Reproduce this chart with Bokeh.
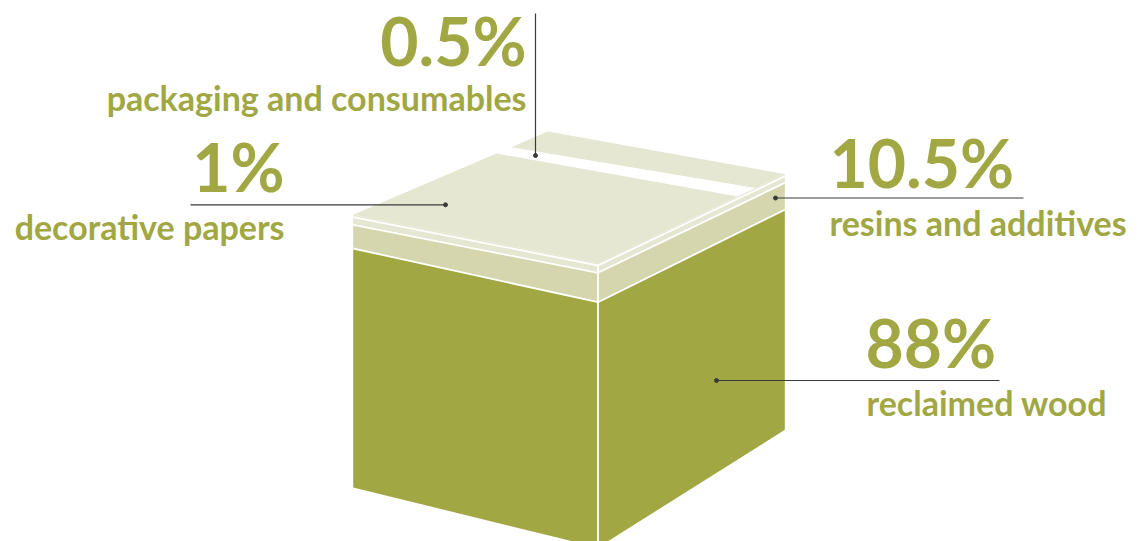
from bokeh.plotting import figure
from bokeh.models import Range1d
from bokeh.embed import file_html
from bokeh.resources import INLINE
from bokeh.core.properties import value

# ---------------- data ----------------
categories = ["reclaimed wood", "resins and additives", "decorative papers", "packaging and consumables"]
shares = [88, 10.5, 1, 0.5]
share_labels = [f"{v:g}%" for v in shares]

# ---------------- style ----------------
GREEN = "#A0A743"
RESIN = "#D5D6AD"
LIGHT = "#E5E7D2"
LEADER = "#3a3a3a"
FONT = "Lato"
NUM_PX = 66
LBL_PX = 34
BASE_SHIFT = 0.387   # text is centred on its anchor: baseline sits this many em below

W, H = 1140, 541
p = figure(width=W, height=H, x_range=Range1d(0, W), y_range=Range1d(H, 0),
           output_backend="svg", toolbar_location=None, min_border=0,
           x_axis_location=None, y_axis_location=None)
p.grid.visible = False
p.outline_line_color = None
p.background_fill_color = "white"
p.border_fill_color = "white"

# ---------------- box layout (screen geometry) ----------------
XL, XF, XR = 352.7, 597.5, 784.3
TOP = (214.3, 262.7, 173.5)
SEAM = (216.6, 265.0, 175.8)
PAPER_BOTTOM = (224.3, 272.3, 182.4)
RESIN_BOTTOM = (248.0, 301.7, 209.3)
BOTTOM = (487.0, 547.0, 429.3)
BACK = (547.3, 131.0)
GAP_LB = (0.736, 0.812)   # fractions along left->back edge
GAP_FR = (0.747, 0.843)   # fractions along front->right edge

bands = [
    (RESIN_BOTTOM, BOTTOM, GREEN),       # reclaimed wood
    (PAPER_BOTTOM, RESIN_BOTTOM, RESIN), # resins and additives
    (TOP, PAPER_BOTTOM, LIGHT),          # decorative papers edge
]
xs, ys, cs = [], [], []
for top, bot, col in bands:
    xs.append([XL, XF, XF, XL]); ys.append([top[0], top[1], bot[1], bot[0]]); cs.append(col)
    xs.append([XF, XR, XR, XF]); ys.append([top[1], top[2], bot[2], bot[1]]); cs.append(col)
p.patches(xs, ys, fill_color=cs, line_color=None)

L = (XL, TOP[0]); F = (XF, TOP[1]); R = (XR, TOP[2]); B = BACK
def lerp(a, b, t):
    return (a[0] + (b[0] - a[0]) * t, a[1] + (b[1] - a[1]) * t)
P1 = lerp(L, B, GAP_LB[0]); Q1 = lerp(L, B, GAP_LB[1])
P2 = lerp(F, R, GAP_FR[0]); Q2 = lerp(F, R, GAP_FR[1])
front_part = [L, P1, P2, F]
back_strip = [Q1, B, R, Q2]
p.patches([[q[0] for q in front_part], [q[0] for q in back_strip]],
          [[q[1] for q in front_part], [q[1] for q in back_strip]],
          fill_color=LIGHT, line_color=None)

# white seams
seams = [SEAM, PAPER_BOTTOM, RESIN_BOTTOM]
p.multi_line([[XL, XF, XR] for _ in seams] + [[XF, XF]],
             [list(s) for s in seams] + [[SEAM[1], BOTTOM[1]]],
             line_color="white", line_width=1.8)

# ---------------- leaders ----------------
leaders = {
    "reclaimed wood": ((716, 380), (999, 380)),
    "resins and additives": ((775, 197.5), (1023, 197.5)),
    "decorative papers": ((445, 204.3), (190, 204.3)),
    "packaging and consumables": ((535, 155), (535, 13)),
}
lx, ly, dx, dy = [], [], [], []
for c in categories:
    a, b = leaders[c]
    lx.append([a[0], b[0]]); ly.append([a[1], b[1]])
    dx.append(a[0]); dy.append(a[1])
p.multi_line(lx, ly, line_color=LEADER, line_width=1.2)
p.scatter(dx, dy, size=4, color=LEADER)

# ---------------- labels ----------------
# (number x, number baseline, label x, label baseline, alignment)
label_pos = {
    "reclaimed wood": (865, 368, 866, 415, "left"),
    "resins and additives": (829, 188, 829, 235, "left"),
    "decorative papers": (284, 192, 284, 239, "right"),
    "packaging and consumables": (526, 66, 526, 110, "right"),
}
for c, lab in zip(categories, share_labels):
    nx, ny, tx, ty, al = label_pos[c]
    p.text(x=[nx], y=[ny - BASE_SHIFT * NUM_PX], text=[lab], text_font=value(FONT),
           text_font_style="bold", text_font_size=f"{NUM_PX}px", text_color=GREEN,
           text_align=al, text_baseline="alphabetic")
    p.text(x=[tx], y=[ty - BASE_SHIFT * LBL_PX], text=[c], text_font=value(FONT),
           text_font_style="bold", text_font_size=f"{LBL_PX}px", text_color=GREEN,
           text_align=al, text_baseline="alphabetic")

open("out.html", "w").write(file_html(p, INLINE))
